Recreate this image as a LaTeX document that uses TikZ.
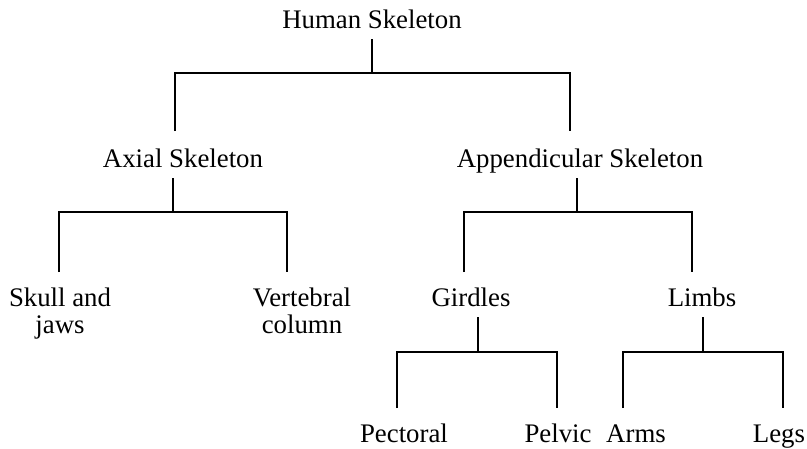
\documentclass[tikz,border=0pt]{standalone}
\usepackage{fontspec}
\setmainfont{Liberation Serif}
\begin{document}
\begin{tikzpicture}[x=1pt,y=-1pt,
  lbl/.style={inner sep=0pt, anchor=base, align=center, font=\fontsize{26.8}{27}\selectfont},
  conn/.style={line width=1.6pt, line join=miter}]
\useasboundingbox (0,0) rectangle (807,448);
% labels
\node[lbl] (hs) at (372,28) {Human Skeleton};
\node[lbl] (ax) at (183,167) {Axial Skeleton};
\node[lbl] (ap) at (580,167) {Appendicular Skeleton};
\node[lbl] (sk) at (60,333) {Skull and\\jaws};
\node[lbl] (vc) at (302,333) {Vertebral\\column};
\node[lbl] (gi) at (471,306) {Girdles};
\node[lbl] (li) at (702,306) {Limbs};
\node[lbl] (pe) at (404,442) {Pectoral};
\node[lbl] (pv) at (558,442) {Pelvic};
\node[lbl] (ar) at (636,442) {Arms};
\node[lbl] (le) at (779,442) {Legs};
% connector end points
\coordinate (hsB) at (372,39);  \coordinate (hsJ) at (372,73);
\coordinate (axT) at (175,131); \coordinate (apT) at (570,131);
\coordinate (axB) at (173,178); \coordinate (axJ) at (173,212);
\coordinate (skT) at (59,272);  \coordinate (vcT) at (287,272);
\coordinate (apB) at (577,178); \coordinate (apJ) at (577,212);
\coordinate (giT) at (464,272); \coordinate (liT) at (692,272);
\coordinate (giB) at (478,317); \coordinate (giJ) at (478,352);
\coordinate (peT) at (397,408); \coordinate (pvT) at (557,408);
\coordinate (liB) at (703,317); \coordinate (liJ) at (703,352);
\coordinate (arT) at (623,408); \coordinate (leT) at (783,408);
% connectors
\draw[conn] (hsB) -- (hsJ);
\draw[conn] (axT) |- (hsJ) -| (apT);
\draw[conn] (axB) -- (axJ);
\draw[conn] (skT) |- (axJ) -| (vcT);
\draw[conn] (apB) -- (apJ);
\draw[conn] (giT) |- (apJ) -| (liT);
\draw[conn] (giB) -- (giJ);
\draw[conn] (peT) |- (giJ) -| (pvT);
\draw[conn] (liB) -- (liJ);
\draw[conn] (arT) |- (liJ) -| (leT);
\end{tikzpicture}
\end{document}
